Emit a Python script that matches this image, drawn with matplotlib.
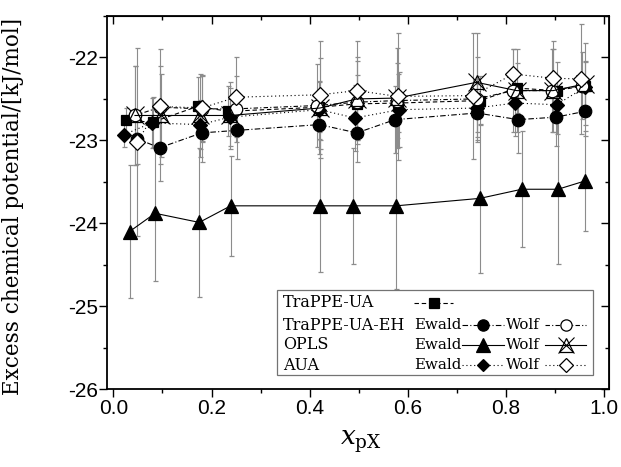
import matplotlib
matplotlib.use("Agg")
import matplotlib.pyplot as plt
from matplotlib.lines import Line2D
from matplotlib.patches import Rectangle
from matplotlib.ticker import MultipleLocator, FormatStrFormatter

# --- data ---------------------------
x_ua = [0.025, 0.08, 0.172, 0.234, 0.42, 0.496, 0.58, 0.747, 0.822, 0.903, 0.961]
y_ua = [-22.76, -22.78, -22.59, -22.65, -22.60, -22.56, -22.55, -22.52, -22.37, -22.40, -22.34]
e_ua = [0.15, 0.3, 0.35, 0.3, 0.3, 0.35, 0.35, 0.3, 0.3, 0.35, 0.3]

x_eh_ewald = [0.048, 0.094, 0.18, 0.251, 0.42, 0.496, 0.574, 0.741, 0.825, 0.902, 0.961]
y_eh_ewald = [-22.98, -23.09, -22.91, -22.88, -22.81, -22.91, -22.75, -22.67, -22.75, -22.72, -22.65]
e_eh_ewald = [0.3, 0.4, 0.35, 0.35, 0.35, 0.35, 0.4, 0.35, 0.4, 0.35, 0.3]

x_eh_wolf = [0.044, 0.095, 0.18, 0.25, 0.414, 0.496, 0.577, 0.74, 0.815, 0.893, 0.954]
y_eh_wolf = [-22.70, -22.60, -22.62, -22.62, -22.58, -22.54, -22.52, -22.50, -22.40, -22.40, -22.34]
e_eh_wolf = [0.6, 0.5, 0.4, 0.4, 0.5, 0.5, 0.45, 0.5, 0.5, 0.5, 0.4]

x_opls_ewald = [0.033, 0.085, 0.175, 0.239, 0.421, 0.489, 0.576, 0.747, 0.832, 0.906, 0.961]
y_opls_ewald = [-24.1, -23.88, -23.99, -23.79, -23.79, -23.79, -23.79, -23.70, -23.59, -23.59, -23.49]
e_opls_ewald = [0.8, 0.82, 0.9, 0.6, 0.8, 0.7, 1.0, 0.9, 0.7, 0.9, 0.6]

x_opls_wolf = [0.044, 0.098, 0.177, 0.238, 0.421, 0.496, 0.577, 0.74, 0.822, 0.896, 0.961]
y_opls_wolf = [-22.70, -22.70, -22.70, -22.70, -22.61, -22.50, -22.49, -22.30, -22.40, -22.40, -22.32]
e_opls_wolf = [0.6, 0.5, 0.5, 0.4, 0.6, 0.5, 0.6, 0.6, 0.5, 0.5, 0.5]

x_aua_ewald = [0.022, 0.078, 0.177, 0.238, 0.42, 0.492, 0.583, 0.74, 0.818, 0.903, 0.961]
y_aua_ewald = [-22.93, -22.79, -22.81, -22.72, -22.63, -22.73, -22.63, -22.61, -22.55, -22.57, -22.36]
e_aua_ewald = [0.15, 0.3, 0.3, 0.35, 0.35, 0.4, 0.45, 0.35, 0.4, 0.35, 0.3]

x_aua_wolf = [0.048, 0.094, 0.18, 0.25, 0.421, 0.496, 0.579, 0.733, 0.815, 0.895, 0.952]
y_aua_wolf = [-23.02, -22.59, -22.61, -22.48, -22.45, -22.40, -22.47, -22.46, -22.20, -22.25, -22.26]
e_aua_wolf = [1.13, 0.69, 0.4, 0.48, 0.65, 0.6, 0.77, 0.76, 0.3, 0.45, 0.66]

models = ["TraPPE-UA", "TraPPE-UA-EH", "OPLS", "AUA"]

SERIF = "DejaVu Serif"
plt.rcParams["font.family"] = "Liberation Sans"
plt.rcParams["mathtext.fontset"] = "dejavuserif"

fig = plt.figure(figsize=(6.21, 4.67), dpi=100)
ax = fig.add_axes([0.1723, 0.167, 0.8084, 0.7987])

eb = dict(ecolor="0.55", elinewidth=0.8, capsize=1.8, capthick=0.8, color="black", lw=0.8)

# style per series: (marker, facecolor, linestyle, size)
st_ua = ("s", "black", (0, (4, 2.5)), 7.5)
st_eh_ewald = ("o", "black", (0, (5, 2, 1, 2)), 9)
st_eh_wolf = ("o", "white", (0, (4, 2, 1, 2)), 9)
st_opls_ewald = ("^", "black", "-", 10.5)
st_opls_wolf = ("^", "none", "-", 10.5)
st_aua_ewald = ("D", "black", (0, (1, 2.5)), 7)
st_aua_wolf = ("D", "white", (0, (1, 2.5)), 8)

series = [
    (x_opls_ewald, y_opls_ewald, e_opls_ewald, st_opls_ewald),
    (x_aua_ewald, y_aua_ewald, e_aua_ewald, st_aua_ewald),
    (x_eh_ewald, y_eh_ewald, e_eh_ewald, st_eh_ewald),
    (x_ua, y_ua, e_ua, st_ua),
    (x_eh_wolf, y_eh_wolf, e_eh_wolf, st_eh_wolf),
    (x_opls_wolf, y_opls_wolf, e_opls_wolf, st_opls_wolf),
    (x_aua_wolf, y_aua_wolf, e_aua_wolf, st_aua_wolf),
]
for x, y, e, (m, fc, ls, ms) in series:
    ax.errorbar(x, y, yerr=e, marker=m, mfc=fc, mec="black", mew=0.9,
                ms=ms, ls=ls, **eb)

# the Wolf OPLS symbol is a hollow triangle with a cross over it
ax.plot(x_opls_wolf, y_opls_wolf, ls="none", marker="x", ms=13, mew=0.8, color="black")

ax.set_xlim(-0.013, 1.01)
ax.set_ylim(-26, -21.5)

for sp in ax.spines.values():
    sp.set_linewidth(1.3)

ax.xaxis.set_major_locator(MultipleLocator(0.2))
ax.xaxis.set_minor_locator(MultipleLocator(0.1))
ax.yaxis.set_major_locator(MultipleLocator(1))
ax.yaxis.set_minor_locator(MultipleLocator(0.5))
ax.xaxis.set_major_formatter(FormatStrFormatter("%.1f"))
ax.yaxis.set_major_formatter(FormatStrFormatter("%d"))
ax.tick_params(which="major", direction="out", length=5.5, width=1.0, labelsize=15, pad=2)
ax.tick_params(which="minor", direction="out", length=3, width=1.0)
ax.tick_params(axis="y", pad=1)

# ticks on top and right point inward
secx = ax.secondary_xaxis("top")
secx.xaxis.set_major_locator(MultipleLocator(0.2))
secx.xaxis.set_minor_locator(MultipleLocator(0.1))
secx.tick_params(which="major", direction="in", length=5.5, width=1.0, labeltop=False)
secx.tick_params(which="minor", direction="in", length=3, width=1.0)
secy = ax.secondary_yaxis("right")
secy.yaxis.set_major_locator(MultipleLocator(1))
secy.yaxis.set_minor_locator(MultipleLocator(0.5))
secy.tick_params(which="major", direction="in", length=5.5, width=1.0, labelright=False)
secy.tick_params(which="minor", direction="in", length=3, width=1.0)

ax.set_ylabel("Excess chemical potential/[kJ/mol]", fontfamily=SERIF, fontsize=15.5)
ax.yaxis.set_label_coords(-0.165, 0.49)
ax.set_xlabel(r"$x_{\mathrm{pX}}$", fontsize=19)
ax.xaxis.set_label_coords(0.505, -0.105)

# --- hand built legend (axes fraction coordinates) -------
T = ax.transAxes
FS = 10.8
ax.add_patch(Rectangle((0.3386, 0.0375), 0.6294, 0.228, transform=T,
                       fill=True, fc="white", ec="0.45", lw=0.9, zorder=5))
rows = [0.2306, 0.1716, 0.118, 0.0643]
for name, yy in zip(models, rows):
    ax.text(0.3506, yy, name, transform=T, fontfamily=SERIF, fontsize=11.5,
            va="center", ha="left", zorder=6)


def sample(x0, x1, yy, style, cross=False):
    m, fc, ls, ms = style
    ax.add_line(Line2D([x0, x1], [yy, yy], transform=T, color="black", lw=0.8,
                       ls=ls, zorder=6))
    ax.add_line(Line2D([(x0 + x1) / 2], [yy], transform=T, marker=m, mfc=fc,
                       mec="black", mew=0.9, ms=ms * 0.9, ls="none", zorder=7))
    if cross:
        ax.add_line(Line2D([(x0 + x1) / 2], [yy], transform=T, marker="x",
                           ms=12, mew=0.8, color="black", ls="none", zorder=7))


sample(0.612, 0.690, rows[0], st_ua)
pairs = [(st_eh_ewald, st_eh_wolf), (st_opls_ewald, st_opls_wolf), (st_aua_ewald, st_aua_wolf)]
for (s_e, s_w), yy, k in zip(pairs, rows[1:], range(3)):
    ax.text(0.612, yy, "Ewald", transform=T, fontfamily=SERIF, fontsize=FS,
            va="center", ha="left", zorder=6)
    sample(0.708, 0.790, yy, s_e)
    ax.text(0.795, yy, "Wolf", transform=T, fontfamily=SERIF, fontsize=FS,
            va="center", ha="left", zorder=6)
    sample(0.872, 0.955, yy, s_w, cross=(k == 1))

fig.savefig("out.png", dpi=100)
